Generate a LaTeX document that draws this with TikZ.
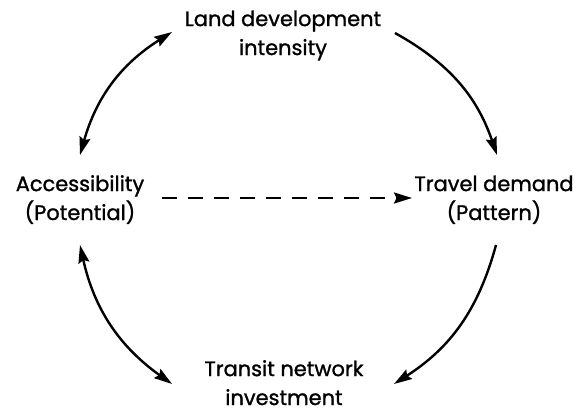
\documentclass[tikz,border=0pt]{standalone}
\usepackage{fontspec}
\setmainfont[FakeBold=1.2]{Poppins}
\usetikzlibrary{arrows.meta}
\begin{document}
\begin{tikzpicture}[x=1bp,y=1bp,
  tip/.tip={Stealth[length=18bp,width=11bp,inset=2.5bp]},
  lbl/.style={align=center, anchor=base, font=\fontsize{21}{29}\selectfont, inner sep=0pt},
  link/.style={line width=2.4bp, -tip},
  both/.style={line width=2.4bp, tip-tip}]
  \useasboundingbox (0,0) rectangle (574,413);
  % the four stages of the cycle (placed by the last line's baseline)
  \node[lbl] (land) at (283,358) {Land development\\intensity};
  \node[lbl] (acc)  at (80,193)  {Accessibility\\(Potential)};
  \node[lbl] (trav) at (494,193) {Travel demand\\(Pattern)};
  \node[lbl] (net)  at (284,8)   {Transit network\\investment};
  % arc end points around the cycle
  \coordinate (tl1) at (172,381);
  \coordinate (tl2) at (80,258);
  \coordinate (tr1) at (395,380);
  \coordinate (tr2) at (497,258);
  \coordinate (bl1) at (80,168);
  \coordinate (bl2) at (172,29);
  \coordinate (br1) at (496,168);
  \coordinate (br2) at (394,29);
  \draw[both] (tl2) to[bend left=21] (tl1);
  \draw[link] (tr1) to[bend left=21] (tr2);
  \draw[link] (br1) to[bend left=21] (br2);
  \draw[both] (bl2) to[bend left=21] (bl1);
  % dashed influence from accessibility to demand
  \coordinate (ds) at (162,215);
  \coordinate (de) at (412,215);
  \draw[link, dash pattern=on 15bp off 11bp] (ds) -- (de);
\end{tikzpicture}
\end{document}
